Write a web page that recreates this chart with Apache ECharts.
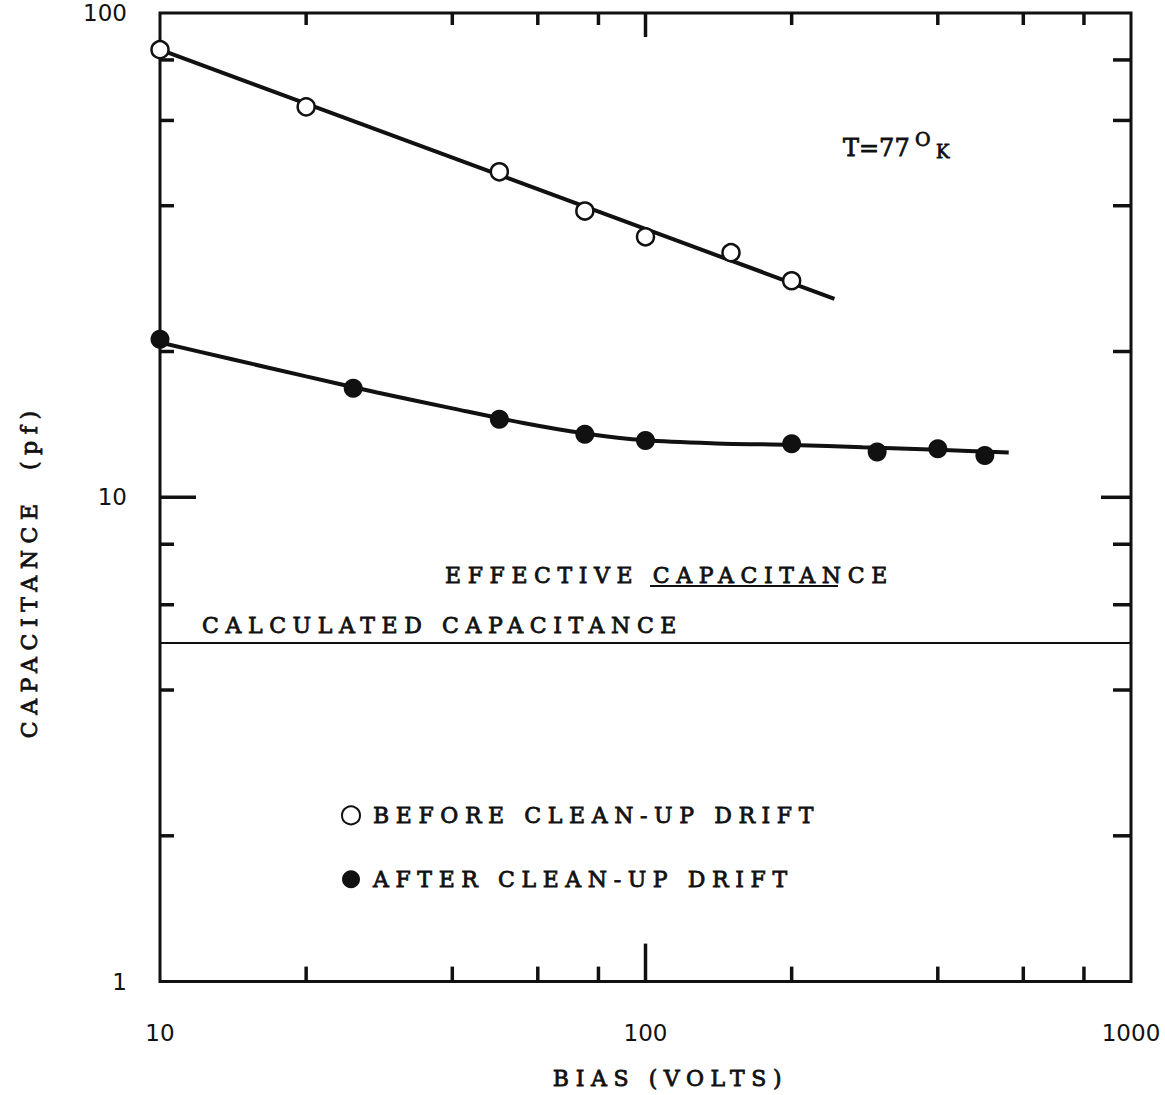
<!DOCTYPE html>
<html><head><meta charset="utf-8">
<script src="https://cdn.jsdelivr.net/npm/echarts@6/dist/echarts.min.js"></script>
<style>
html,body{margin:0;padding:0;background:#fff;}
#chart{width:1165px;height:1095px;}
#chart text[style*="22px"]{letter-spacing:6.6px;}
</style></head><body><div id="chart"></div>
<script>
// ---- data ----
const beforeBias = [10, 20, 50, 75, 100, 150, 200];
const beforeCap  = [84, 64, 47, 39, 34.5, 32, 28];
const afterBias  = [10, 25, 50, 75, 100, 200, 300, 400, 500];
const afterCap   = [21.2, 16.8, 14.5, 13.5, 13.1, 12.9, 12.4, 12.6, 12.2];
const beforeFitBias = [10, 245];
const beforeFitCap  = [84, 25.7];
const afterFitBias  = [10, 14, 20, 28, 40, 56, 75, 100, 140, 200, 280, 400, 560];
const afterFitCap   = [20.87, 19.3, 17.77, 16.46, 15.26, 14.24, 13.55, 13.11, 12.92, 12.83, 12.68, 12.53, 12.38];
const calcCapBias = [10, 1000];
const calcCap     = [5.0, 5.0];
const xMinorTicks = [20, 40, 60, 80, 200, 400, 600, 800];
const xMajorTicks = [100];
const yMinorTicks = [2, 4, 6, 8, 20, 40, 60, 80];
const yMajorTicks = [10];
const xRange = [10, 1000];
const yRange = [1, 100];

const INK = '#111';
const SERIF = "'DejaVu Serif'";
const SANS = "'DejaVu Sans'";
const SPACED_SIZE = 22;

const zip = (a, b) => a.map((v, i) => [v, b[i]]);

function xTickRender(bottomLen, topLen) {
  return function (params, api) {
    const cs = params.coordSys;
    const p = api.coord([api.value(0), api.value(1)]);
    const st = { stroke: INK, lineWidth: 3.5 };
    return { type: 'group', children: [
      { type: 'line', shape: { x1: p[0], y1: cs.y + cs.height, x2: p[0], y2: cs.y + cs.height - bottomLen }, style: st },
      { type: 'line', shape: { x1: p[0], y1: cs.y, x2: p[0], y2: cs.y + topLen }, style: st }
    ]};
  };
}
function yTickRender(leftLen, rightLen) {
  return function (params, api) {
    const cs = params.coordSys;
    const p = api.coord([api.value(0), api.value(1)]);
    const st = { stroke: INK, lineWidth: 3.5 };
    return { type: 'group', children: [
      { type: 'line', shape: { x1: cs.x, y1: p[1], x2: cs.x + leftLen, y2: p[1] }, style: st },
      { type: 'line', shape: { x1: cs.x + cs.width, y1: p[1], x2: cs.x + cs.width - rightLen, y2: p[1] }, style: st }
    ]};
  };
}
const serifText = (text, x, y, size) => ({
  type: 'text', x: x, y: y,
  style: { text: text, fontFamily: SERIF, fontSize: size, fill: INK, stroke: INK, lineWidth: 0.8,
           align: 'left', verticalAlign: 'middle' }
});

const chart = echarts.init(document.getElementById('chart'), null, { renderer: 'svg' });
chart.setOption({
  animation: false,
  backgroundColor: '#fff',
  grid: { left: 160, right: 34, top: 13, bottom: 112, show: true, borderColor: INK, borderWidth: 3, backgroundColor: 'transparent' },
  xAxis: {
    type: 'log', logBase: 10, min: xRange[0], max: xRange[1],
    axisLine: { show: false }, axisTick: { show: false }, splitLine: { show: false }, minorTick: { show: false },
    axisLabel: { color: INK, fontFamily: SANS, fontSize: 23, margin: 40, formatter: v => String(v) },
    name: 'BIAS (VOLTS)', nameLocation: 'middle', nameGap: 86,
    nameTextStyle: { color: INK, fontFamily: SERIF, fontSize: SPACED_SIZE, padding: [0, 0, 0, 50],
                     textBorderColor: INK, textBorderWidth: 0.8 }
  },
  yAxis: {
    type: 'log', logBase: 10, min: yRange[0], max: yRange[1],
    axisLine: { show: false }, axisTick: { show: false }, splitLine: { show: false }, minorTick: { show: false },
    axisLabel: { color: INK, fontFamily: SANS, fontSize: 23, margin: 33, formatter: v => String(v) },
    name: 'CAPACITANCE  (pf)', nameLocation: 'middle', nameGap: 120, nameRotate: 90,
    nameTextStyle: { color: INK, fontFamily: SERIF, fontSize: SPACED_SIZE, padding: [0, 148, 0, 0],
                     textBorderColor: INK, textBorderWidth: 0.8 }
  },
  legend: {
    data: ['BEFORE CLEAN-UP DRIFT', 'AFTER CLEAN-UP DRIFT'],
    orient: 'vertical', left: 341, top: 804, padding: 0, itemGap: 41, itemWidth: 18, itemHeight: 18,
    selectedMode: false,
    textStyle: { color: INK, fontFamily: SERIF, fontSize: SPACED_SIZE, lineHeight: 20, padding: [0, 0, 0, 8],
                 textBorderColor: INK, textBorderWidth: 0.8 }
  },
  graphic: [
    serifText('EFFECTIVE CAPACITANCE', 445, 575, SPACED_SIZE),
    { type: 'line', shape: { x1: 650, y1: 586, x2: 838, y2: 586 }, style: { stroke: INK, lineWidth: 2 } },
    serifText('CALCULATED CAPACITANCE', 202, 625, SPACED_SIZE),
    serifText('T=77', 843, 148, 24),
    serifText('O', 915, 139, 19),
    serifText('K', 936, 151, 18)
  ],
  series: [
    { name: 'calc', type: 'line', data: zip(calcCapBias, calcCap), showSymbol: false, lineStyle: { color: INK, width: 2 }, z: 2 },
    { name: 'beforeFit', type: 'line', data: zip(beforeFitBias, beforeFitCap), showSymbol: false, lineStyle: { color: INK, width: 4 }, z: 2 },
    { name: 'afterFit', type: 'line', data: zip(afterFitBias, afterFitCap), showSymbol: false, smooth: 0.3, lineStyle: { color: INK, width: 4 }, z: 2 },
    { name: 'BEFORE CLEAN-UP DRIFT', type: 'scatter', data: zip(beforeBias, beforeCap), symbol: 'circle', symbolSize: 17, clip: false,
      itemStyle: { color: '#fff', borderColor: INK, borderWidth: 2.5, opacity: 1 }, z: 5 },
    { name: 'AFTER CLEAN-UP DRIFT', type: 'scatter', data: zip(afterBias, afterCap), symbol: 'circle', symbolSize: 19, clip: false,
      itemStyle: { color: INK, borderColor: INK, borderWidth: 0, opacity: 1 }, z: 5 },
    { name: 'xMinor', type: 'custom', data: xMinorTicks.map(v => [v, yRange[0]]), renderItem: xTickRender(15, 12), z: 3, silent: true },
    { name: 'xMajor', type: 'custom', data: xMajorTicks.map(v => [v, yRange[0]]), renderItem: xTickRender(38, 24), z: 3, silent: true },
    { name: 'yMinor', type: 'custom', data: yMinorTicks.map(v => [xRange[0], v]), renderItem: yTickRender(14, 18), z: 3, silent: true },
    { name: 'yMajor', type: 'custom', data: yMajorTicks.map(v => [xRange[0], v]), renderItem: yTickRender(36, 30), z: 3, silent: true }
  ]
});
</script></body></html>
